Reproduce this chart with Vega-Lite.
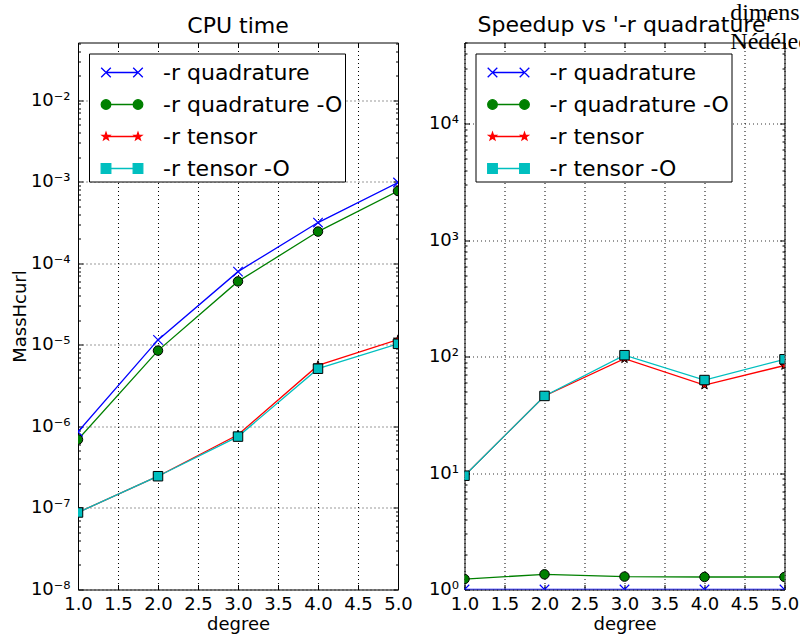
{
  "$schema": "https://vega.github.io/schema/vega-lite/v6.json",
  "padding": {"left": 10, "top": 0.5, "right": 0, "bottom": 5},
  "background": "white",
  "datasets": {
    "cpu": [
      {"series": "-r quadrature", "degree": 1, "value": 8.6e-7},
      {"series": "-r quadrature", "degree": 2, "value": 1.15e-5},
      {"series": "-r quadrature", "degree": 3, "value": 7.9e-5},
      {"series": "-r quadrature", "degree": 4, "value": 3.16e-4},
      {"series": "-r quadrature", "degree": 5, "value": 9.8e-4},
      {"series": "-r quadrature -O", "degree": 1, "value": 6.9e-7},
      {"series": "-r quadrature -O", "degree": 2, "value": 8.5e-6},
      {"series": "-r quadrature -O", "degree": 3, "value": 6.0e-5},
      {"series": "-r quadrature -O", "degree": 4, "value": 2.45e-4},
      {"series": "-r quadrature -O", "degree": 5, "value": 7.7e-4},
      {"series": "-r tensor", "degree": 1, "value": 8.8e-8},
      {"series": "-r tensor", "degree": 2, "value": 2.45e-7},
      {"series": "-r tensor", "degree": 3, "value": 7.9e-7},
      {"series": "-r tensor", "degree": 4, "value": 5.6e-6},
      {"series": "-r tensor", "degree": 5, "value": 1.16e-5},
      {"series": "-r tensor -O", "degree": 1, "value": 8.8e-8},
      {"series": "-r tensor -O", "degree": 2, "value": 2.45e-7},
      {"series": "-r tensor -O", "degree": 3, "value": 7.5e-7},
      {"series": "-r tensor -O", "degree": 4, "value": 5.1e-6},
      {"series": "-r tensor -O", "degree": 5, "value": 1.03e-5}
    ],
    "speedup": [
      {"series": "-r quadrature", "degree": 1, "value": 1},
      {"series": "-r quadrature", "degree": 2, "value": 1},
      {"series": "-r quadrature", "degree": 3, "value": 1},
      {"series": "-r quadrature", "degree": 4, "value": 1},
      {"series": "-r quadrature", "degree": 5, "value": 1},
      {"series": "-r quadrature -O", "degree": 1, "value": 1.23},
      {"series": "-r quadrature -O", "degree": 2, "value": 1.35},
      {"series": "-r quadrature -O", "degree": 3, "value": 1.29},
      {"series": "-r quadrature -O", "degree": 4, "value": 1.28},
      {"series": "-r quadrature -O", "degree": 5, "value": 1.28},
      {"series": "-r tensor", "degree": 1, "value": 9.5},
      {"series": "-r tensor", "degree": 2, "value": 46},
      {"series": "-r tensor", "degree": 3, "value": 96},
      {"series": "-r tensor", "degree": 4, "value": 57},
      {"series": "-r tensor", "degree": 5, "value": 84},
      {"series": "-r tensor -O", "degree": 1, "value": 9.5},
      {"series": "-r tensor -O", "degree": 2, "value": 46},
      {"series": "-r tensor -O", "degree": 3, "value": 103},
      {"series": "-r tensor -O", "degree": 4, "value": 63},
      {"series": "-r tensor -O", "degree": 5, "value": 95}
    ]
  },
  "title": {
    "text": ["dimension = 3", "Nédélec"],
    "anchor": "end",
    "align": "left",
    "font": "Liberation Serif",
    "fontSize": 24,
    "fontWeight": "normal",
    "color": "black",
    "lineHeight": 29,
    "offset": -50,
    "dx": -69,
    "dy": -10
  },
  "spacing": 14.5,
  "resolve": {
    "scale": {"x": "independent", "y": "independent", "color": "independent"},
    "legend": {"color": "independent"}
  },
  "hconcat": [
    {
      "width": 320,
      "height": 547,
      "title": "CPU time",
      "data": {"name": "cpu"},
      "layer": [
        {
          "layer": [
            {
              "mark": {"type": "line", "clip": true, "strokeWidth": 1.3},
              "encoding": {
                "x": {
                  "field": "degree", "type": "quantitative",
                  "scale": {"domain": [1, 5], "nice": false, "zero": false},
                  "axis": {"orient": "bottom", "values": [1, 1.5, 2, 2.5, 3, 3.5, 4, 4.5, 5], "tickCount": 100, "labelExpr": "format(datum.value, '.1f')", "title": "degree", "grid": true, "tickSize": -5, "labelPadding": 11, "titlePadding": 2, "labelOverlap": false, "labelFlush": false, "labelBound": false}
                },
                "y": {
                  "field": "value", "type": "quantitative",
                  "scale": {"type": "log", "domain": [1e-8, 0.051], "nice": false},
                  "axis": {
                    "orient": "left",
                    "values": [1e-8, 2e-8, 3e-8, 4e-8, 5e-8, 6e-8, 7e-8, 8e-8, 9e-8, 1e-7, 2e-7, 3e-7, 4e-7, 5e-7, 6e-7, 7e-7, 8e-7, 9e-7, 1e-6, 2e-6, 3e-6, 4e-6, 5e-6, 6e-6, 7e-6, 8e-6, 9e-6, 1e-5, 2e-5, 3e-5, 4e-5, 5e-5, 6e-5, 7e-5, 8e-5, 9e-5, 1e-4, 2e-4, 3e-4, 4e-4, 5e-4, 6e-4, 7e-4, 8e-4, 9e-4, 1e-3, 2e-3, 3e-3, 4e-3, 5e-3, 6e-3, 7e-3, 8e-3, 9e-3, 1e-2, 2e-2, 3e-2, 4e-2, 5e-2],
                    "tickCount": 200,
                    "title": "MassHcurl",
                    "labelExpr": "abs(log(datum.value)/LN10 - round(log(datum.value)/LN10)) < 0.001 ? '10' + (round(log(datum.value)/LN10) < 0 ? '⁻' : '') + substring('⁰¹²³⁴⁵⁶⁷⁸⁹', abs(round(log(datum.value)/LN10)), abs(round(log(datum.value)/LN10)) + 1) : ''",
                    "grid": true,
                    "gridOpacity": {"condition": {"test": "abs(log(datum.value)/LN10 - round(log(datum.value)/LN10)) < 0.001", "value": 0.8}, "value": 0},
                    "tickSize": {"condition": {"test": "abs(log(datum.value)/LN10 - round(log(datum.value)/LN10)) < 0.001", "value": -5}, "value": -2.5},
                    "labelPadding": 13,
                    "titlePadding": 1,
                    "labelOverlap": false,
                    "labelFlush": false
                  }
                },
                "color": {
                  "field": "series", "type": "nominal",
                  "scale": {"domain": ["-r quadrature", "-r quadrature -O", "-r tensor", "-r tensor -O"], "range": ["#0000ff", "#008000", "#ff0000", "#00bfbf"]},
                  "legend": {
                    "title": null,
                    "encode": {
                      "symbols": {
                        "update": {
                          "shape": {"signal": "datum.value === '-r quadrature' ? 'M-1,0L1,0M-1.3,-0.3L-0.7,0.3M-1.3,0.3L-0.7,-0.3M0.7,-0.3L1.3,0.3M0.7,0.3L1.3,-0.3' : datum.value === '-r quadrature -O' ? 'M-1,0L1,0M-1.3,0A0.3,0.3 0 1,0 -0.7,0A0.3,0.3 0 1,0 -1.3,0ZM0.7,0A0.3,0.3 0 1,0 1.3,0A0.3,0.3 0 1,0 0.7,0Z' : datum.value === '-r tensor' ? 'M-1,0L1,0M-1,-0.25L-0.941,-0.081L-0.762,-0.077L-0.905,0.031L-0.853,0.202L-1,0.1L-1.147,0.202L-1.095,0.031L-1.238,-0.077L-1.059,-0.081ZM1,-0.25L1.059,-0.081L1.238,-0.077L1.095,0.031L1.147,0.202L1,0.1L0.853,0.202L0.905,0.031L0.762,-0.077L0.941,-0.081Z' : 'M-1,0L1,0M-1.3,-0.3H-0.7V0.3H-1.3ZM0.7,-0.3H1.3V0.3H0.7Z'"},
                          "fill": {"signal": "datum.value === '-r quadrature' ? '#0000ff' : datum.value === '-r quadrature -O' ? '#008000' : datum.value === '-r tensor' ? '#ff0000' : '#00bfbf'"},
                          "stroke": {"signal": "datum.value === '-r quadrature' ? '#0000ff' : datum.value === '-r quadrature -O' ? '#008000' : datum.value === '-r tensor' ? '#ff0000' : '#00bfbf'"},
                          "opacity": {"value": 1},
                          "strokeWidth": {"value": 1.3}
                        }
                      }
                    }
                  }
                }
              }
            },
            {
              "transform": [{"filter": "datum.series === '-r quadrature'"}],
              "mark": {"type": "point", "shape": "M-1,-1L1,1M-1,1L1,-1", "filled": false, "opacity": 1, "size": 90, "strokeWidth": 1.2, "clip": true},
              "encoding": {
                "x": {"field": "degree", "type": "quantitative"},
                "y": {"field": "value", "type": "quantitative"},
                "color": {"field": "series", "type": "nominal"}
              }
            },
            {
              "transform": [{"filter": "datum.series === '-r quadrature -O'"}],
              "mark": {"type": "point", "shape": "circle", "filled": true, "stroke": "black", "opacity": 1, "size": 90, "strokeWidth": 1, "clip": true},
              "encoding": {
                "x": {"field": "degree", "type": "quantitative"},
                "y": {"field": "value", "type": "quantitative"},
                "color": {"field": "series", "type": "nominal"}
              }
            },
            {
              "transform": [{"filter": "datum.series === '-r tensor'"}],
              "mark": {"type": "point", "shape": "M0,-1L0.235,-0.324L0.951,-0.309L0.380,0.124L0.588,0.809L0,0.4L-0.588,0.809L-0.380,0.124L-0.951,-0.309L-0.235,-0.324Z", "filled": true, "stroke": "black", "opacity": 1, "size": 90, "strokeWidth": 1, "clip": true},
              "encoding": {
                "x": {"field": "degree", "type": "quantitative"},
                "y": {"field": "value", "type": "quantitative"},
                "color": {"field": "series", "type": "nominal"}
              }
            },
            {
              "transform": [{"filter": "datum.series === '-r tensor -O'"}],
              "mark": {"type": "point", "shape": "square", "filled": true, "stroke": "black", "opacity": 1, "size": 90, "strokeWidth": 1, "clip": true},
              "encoding": {
                "x": {"field": "degree", "type": "quantitative"},
                "y": {"field": "value", "type": "quantitative"},
                "color": {"field": "series", "type": "nominal"}
              }
            }
          ]
        },
        {
          "mark": {"type": "point", "opacity": 0},
          "encoding": {
            "x": {
              "field": "degree", "type": "quantitative",
              "scale": {"domain": [1, 5], "nice": false, "zero": false},
              "axis": {"orient": "top", "values": [1, 1.5, 2, 2.5, 3, 3.5, 4, 4.5, 5], "tickCount": 100, "labels": false, "title": null, "grid": false, "tickSize": -5}
            },
            "y": {
              "field": "value", "type": "quantitative",
              "scale": {"type": "log", "domain": [1e-8, 0.051], "nice": false},
              "axis": {
                "orient": "right",
                "values": [1e-8, 2e-8, 3e-8, 4e-8, 5e-8, 6e-8, 7e-8, 8e-8, 9e-8, 1e-7, 2e-7, 3e-7, 4e-7, 5e-7, 6e-7, 7e-7, 8e-7, 9e-7, 1e-6, 2e-6, 3e-6, 4e-6, 5e-6, 6e-6, 7e-6, 8e-6, 9e-6, 1e-5, 2e-5, 3e-5, 4e-5, 5e-5, 6e-5, 7e-5, 8e-5, 9e-5, 1e-4, 2e-4, 3e-4, 4e-4, 5e-4, 6e-4, 7e-4, 8e-4, 9e-4, 1e-3, 2e-3, 3e-3, 4e-3, 5e-3, 6e-3, 7e-3, 8e-3, 9e-3, 1e-2, 2e-2, 3e-2, 4e-2, 5e-2],
                "tickCount": 200,
                "labels": false, "title": null, "grid": false,
                "tickSize": {"condition": {"test": "abs(log(datum.value)/LN10 - round(log(datum.value)/LN10)) < 0.001", "value": -5}, "value": -2.5}
              }
            }
          }
        }
      ],
      "resolve": {"scale": {"x": "independent", "y": "independent"}}
    },
    {
      "width": 320,
      "height": 547,
      "title": "Speedup vs '-r quadrature'",
      "data": {"name": "speedup"},
      "layer": [
        {
          "layer": [
            {
              "mark": {"type": "line", "clip": true, "strokeWidth": 1.3},
              "encoding": {
                "x": {
                  "field": "degree", "type": "quantitative",
                  "scale": {"domain": [1, 5], "nice": false, "zero": false},
                  "axis": {"orient": "bottom", "values": [1, 1.5, 2, 2.5, 3, 3.5, 4, 4.5, 5], "tickCount": 100, "labelExpr": "format(datum.value, '.1f')", "title": "degree", "grid": true, "tickSize": -5, "labelPadding": 11, "titlePadding": 2, "labelOverlap": false, "labelFlush": false, "labelBound": false}
                },
                "y": {
                  "field": "value", "type": "quantitative",
                  "scale": {"type": "log", "domain": [1, 50000], "nice": false},
                  "axis": {
                    "orient": "left",
                    "values": [1, 2, 3, 4, 5, 6, 7, 8, 9, 10, 20, 30, 40, 50, 60, 70, 80, 90, 100, 200, 300, 400, 500, 600, 700, 800, 900, 1000, 2000, 3000, 4000, 5000, 6000, 7000, 8000, 9000, 10000, 20000, 30000, 40000, 50000],
                    "tickCount": 200,
                    "title": null,
                    "labelExpr": "abs(log(datum.value)/LN10 - round(log(datum.value)/LN10)) < 0.001 ? '10' + (round(log(datum.value)/LN10) < 0 ? '⁻' : '') + substring('⁰¹²³⁴⁵⁶⁷⁸⁹', abs(round(log(datum.value)/LN10)), abs(round(log(datum.value)/LN10)) + 1) : ''",
                    "grid": true,
                    "gridOpacity": {"condition": {"test": "abs(log(datum.value)/LN10 - round(log(datum.value)/LN10)) < 0.001", "value": 0.8}, "value": 0},
                    "tickSize": {"condition": {"test": "abs(log(datum.value)/LN10 - round(log(datum.value)/LN10)) < 0.001", "value": -5}, "value": -2.5},
                    "labelPadding": 11,
                    "labelOverlap": false,
                    "labelFlush": false
                  }
                },
                "color": {
                  "field": "series", "type": "nominal",
                  "scale": {"domain": ["-r quadrature", "-r quadrature -O", "-r tensor", "-r tensor -O"], "range": ["#0000ff", "#008000", "#ff0000", "#00bfbf"]},
                  "legend": {
                    "title": null,
                    "encode": {
                      "symbols": {
                        "update": {
                          "shape": {"signal": "datum.value === '-r quadrature' ? 'M-1,0L1,0M-1.3,-0.3L-0.7,0.3M-1.3,0.3L-0.7,-0.3M0.7,-0.3L1.3,0.3M0.7,0.3L1.3,-0.3' : datum.value === '-r quadrature -O' ? 'M-1,0L1,0M-1.3,0A0.3,0.3 0 1,0 -0.7,0A0.3,0.3 0 1,0 -1.3,0ZM0.7,0A0.3,0.3 0 1,0 1.3,0A0.3,0.3 0 1,0 0.7,0Z' : datum.value === '-r tensor' ? 'M-1,0L1,0M-1,-0.25L-0.941,-0.081L-0.762,-0.077L-0.905,0.031L-0.853,0.202L-1,0.1L-1.147,0.202L-1.095,0.031L-1.238,-0.077L-1.059,-0.081ZM1,-0.25L1.059,-0.081L1.238,-0.077L1.095,0.031L1.147,0.202L1,0.1L0.853,0.202L0.905,0.031L0.762,-0.077L0.941,-0.081Z' : 'M-1,0L1,0M-1.3,-0.3H-0.7V0.3H-1.3ZM0.7,-0.3H1.3V0.3H0.7Z'"},
                          "fill": {"signal": "datum.value === '-r quadrature' ? '#0000ff' : datum.value === '-r quadrature -O' ? '#008000' : datum.value === '-r tensor' ? '#ff0000' : '#00bfbf'"},
                          "stroke": {"signal": "datum.value === '-r quadrature' ? '#0000ff' : datum.value === '-r quadrature -O' ? '#008000' : datum.value === '-r tensor' ? '#ff0000' : '#00bfbf'"},
                          "opacity": {"value": 1},
                          "strokeWidth": {"value": 1.3}
                        }
                      }
                    }
                  }
                }
              }
            },
            {
              "transform": [{"filter": "datum.series === '-r quadrature'"}],
              "mark": {"type": "point", "shape": "M-1,-1L1,1M-1,1L1,-1", "filled": false, "opacity": 1, "size": 90, "strokeWidth": 1.2, "clip": true},
              "encoding": {
                "x": {"field": "degree", "type": "quantitative"},
                "y": {"field": "value", "type": "quantitative"},
                "color": {"field": "series", "type": "nominal"}
              }
            },
            {
              "transform": [{"filter": "datum.series === '-r quadrature -O'"}],
              "mark": {"type": "point", "shape": "circle", "filled": true, "stroke": "black", "opacity": 1, "size": 90, "strokeWidth": 1, "clip": true},
              "encoding": {
                "x": {"field": "degree", "type": "quantitative"},
                "y": {"field": "value", "type": "quantitative"},
                "color": {"field": "series", "type": "nominal"}
              }
            },
            {
              "transform": [{"filter": "datum.series === '-r tensor'"}],
              "mark": {"type": "point", "shape": "M0,-1L0.235,-0.324L0.951,-0.309L0.380,0.124L0.588,0.809L0,0.4L-0.588,0.809L-0.380,0.124L-0.951,-0.309L-0.235,-0.324Z", "filled": true, "stroke": "black", "opacity": 1, "size": 90, "strokeWidth": 1, "clip": true},
              "encoding": {
                "x": {"field": "degree", "type": "quantitative"},
                "y": {"field": "value", "type": "quantitative"},
                "color": {"field": "series", "type": "nominal"}
              }
            },
            {
              "transform": [{"filter": "datum.series === '-r tensor -O'"}],
              "mark": {"type": "point", "shape": "square", "filled": true, "stroke": "black", "opacity": 1, "size": 90, "strokeWidth": 1, "clip": true},
              "encoding": {
                "x": {"field": "degree", "type": "quantitative"},
                "y": {"field": "value", "type": "quantitative"},
                "color": {"field": "series", "type": "nominal"}
              }
            }
          ]
        },
        {
          "mark": {"type": "point", "opacity": 0},
          "encoding": {
            "x": {
              "field": "degree", "type": "quantitative",
              "scale": {"domain": [1, 5], "nice": false, "zero": false},
              "axis": {"orient": "top", "values": [1, 1.5, 2, 2.5, 3, 3.5, 4, 4.5, 5], "tickCount": 100, "labels": false, "title": null, "grid": false, "tickSize": -5}
            },
            "y": {
              "field": "value", "type": "quantitative",
              "scale": {"type": "log", "domain": [1, 50000], "nice": false},
              "axis": {
                "orient": "right",
                "values": [1, 2, 3, 4, 5, 6, 7, 8, 9, 10, 20, 30, 40, 50, 60, 70, 80, 90, 100, 200, 300, 400, 500, 600, 700, 800, 900, 1000, 2000, 3000, 4000, 5000, 6000, 7000, 8000, 9000, 10000, 20000, 30000, 40000, 50000],
                "tickCount": 200,
                "labels": false, "title": null, "grid": false,
                "tickSize": {"condition": {"test": "abs(log(datum.value)/LN10 - round(log(datum.value)/LN10)) < 0.001", "value": -5}, "value": -2.5}
              }
            }
          }
        }
      ],
      "resolve": {"scale": {"x": "independent", "y": "independent"}}
    }
  ],
  "config": {
    "font": "DejaVu Sans",
    "view": {"stroke": "black", "strokeWidth": 1},
    "axis": {
      "domain": false,
      "labelFont": "DejaVu Sans", "labelFontSize": 18, "labelColor": "black",
      "titleFont": "DejaVu Sans", "titleFontSize": 18, "titleFontWeight": "normal", "titleColor": "black",
      "tickColor": "black", "tickWidth": 1,
      "gridColor": "black", "gridDash": [1, 3], "gridWidth": 1
    },
    "title": {"font": "DejaVu Sans", "fontSize": 22, "fontWeight": "normal", "color": "black", "offset": -3.5},
    "legend": {
      "orient": "top-left", "offset": 11, "padding": 2,
      "strokeColor": "black", "strokeWidth": 1, "fillColor": "white",
      "labelFont": "DejaVu Sans", "labelFontSize": 22, "labelColor": "black",
      "symbolSize": 1024, "symbolOffset": 14, "labelOffset": 24, "rowPadding": 4, "labelLimit": 400
    }
  }
}
